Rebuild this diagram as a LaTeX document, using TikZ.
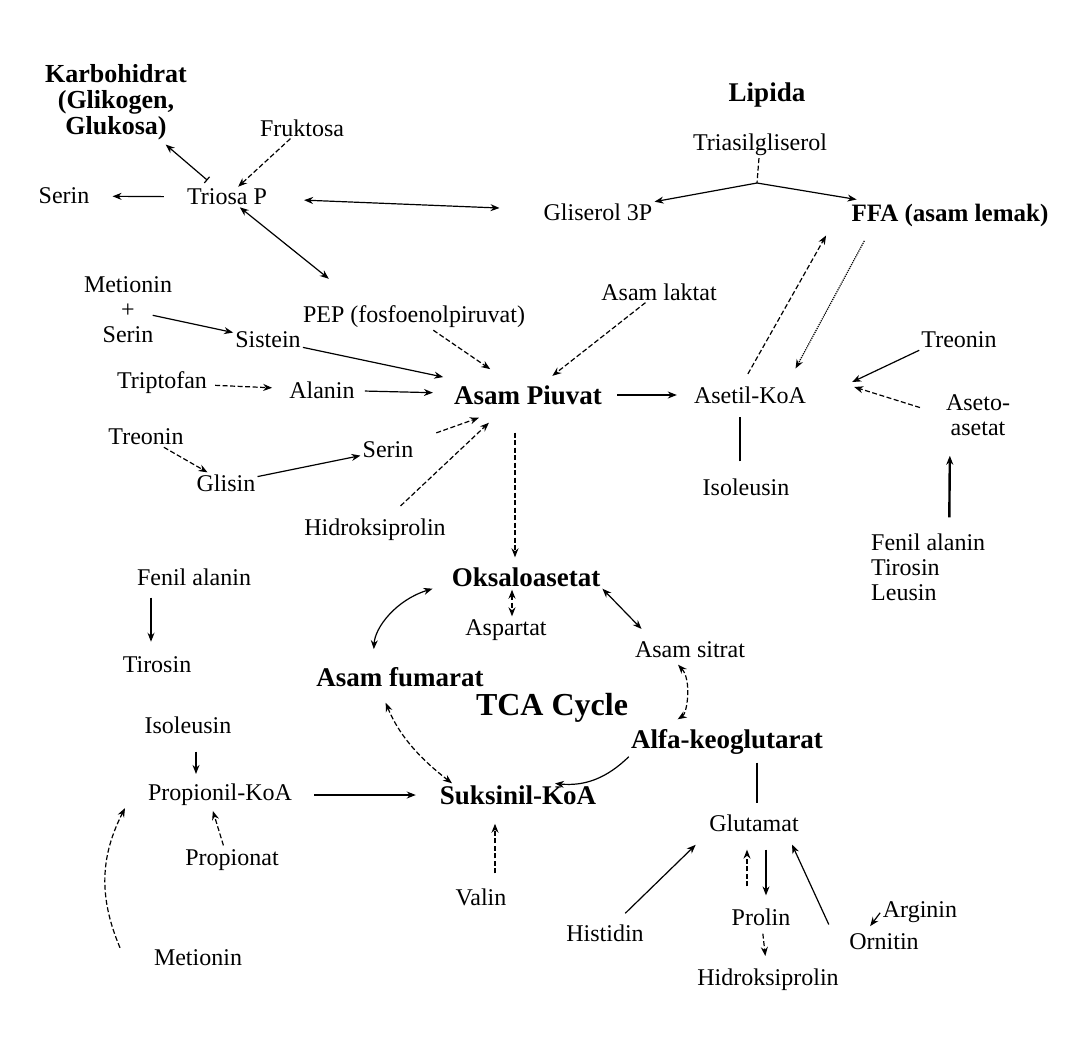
\documentclass[tikz,border=0pt]{standalone}
\usepackage{fontspec}
\setmainfont{Liberation Serif}
\usetikzlibrary{arrows.meta}

\begin{document}
\begin{tikzpicture}[x=1pt,y=-1pt,
    txt/.style={font=\fontsize{24}{25}\selectfont, inner sep=2pt},
    bld/.style={font=\fontsize{27}{24}\selectfont\bfseries, inner sep=2pt},
    arr/.style={-{Stealth[length=9pt,width=7pt]}, line width=1.2pt},
    dbl/.style={{Stealth[length=9pt,width=7pt]}-{Stealth[length=9pt,width=7pt]}, line width=1.2pt},
    dsh/.style={dash pattern=on 5pt off 2.5pt},
    thk/.style={line width=2.4pt}]
            \useasboundingbox[fill=white] (0,0) rectangle (1088,1037);

            % 糖类
            \node[bld, align=center, font=\fontsize{26}{26}\selectfont\bfseries] (karbo) at (116,102) {Karbohidrat\\(Glikogen,\\Glukosa)};
            \node[txt] (fru) at (302,128) {Fruktosa};
            \node[txt] (ser1) at (64,196) {Serin};
            \node[txt] (tri) at (227,197) {Triosa P};

            % 脂类
            \node[bld] (lip) at (767,95) {Lipida};
            \node[txt] (tag) at (760,145) {Triasilgliserol};
            \coordinate (jn) at (757,183);
            \node[txt] (gli) at (598,212) {Gliserol 3P};
            \node[bld, font=\fontsize{25}{26}\selectfont\bfseries] (ffa) at (950,215) {FFA (asam lemak)};

            % 丙酮酸一带
            \node[txt, align=center] (met1) at (128,310) {Metionin\\+\\Serin};
            \node[txt] (pep) at (414,317) {PEP (fosfoenolpiruvat)};
            \node[txt] (sis) at (268,340) {Sistein};
            \node[txt] (lak) at (659,292) {Asam laktat};
            \node[txt] (trp) at (162,383) {Triptofan};
            \node[txt] (ala) at (322,390) {Alanin};
            \node[bld] (piu) at (528,395) {Asam Piuvat};
            \node[txt] (ase) at (750,395) {Asetil-KoA};
            \node[txt] (tre2) at (959,340) {Treonin};
            \node[txt, align=center] (aset) at (978,415) {Aseto-\\asetat};
            \node[txt] (tre1) at (146,437) {Treonin};
            \node[txt] (ser2) at (388,450) {Serin};
            \node[txt] (gly) at (226,483) {Glisin};
            \node[txt] (iso1) at (746,487) {Isoleusin};
            \node[txt] (hid1) at (375,530) {Hidroksiprolin};
            \node[txt, align=left, anchor=west] (fen2) at (869,567) {Fenil alanin\\Tirosin\\Leusin};

            % TCA 循环
            \node[bld] (oks) at (526,577) {Oksaloasetat};
            \node[txt] (fen1) at (194,577) {Fenil alanin};
            \node[txt] (asp) at (506,630) {Aspartat};
            \node[txt] (sit) at (690,650) {Asam sitrat};
            \node[txt] (tir) at (157,665) {Tirosin};
            \node[bld] (fum) at (400,677) {Asam fumarat};
            \node[bld, font=\fontsize{32}{34}\selectfont\bfseries] (tca) at (552,708) {TCA Cycle};
            \node[txt] (iso2) at (188,725) {Isoleusin};
            \node[bld] (alf) at (727,742) {Alfa-keoglutarat};
            \node[txt] (pro) at (220,795) {Propionil-KoA};
            \node[bld] (suk) at (518,795) {Suksinil-KoA};
            \node[txt] (glu) at (754,823) {Glutamat};
            \node[txt] (prp) at (232,860) {Propionat};
            \node[txt] (val) at (481,897) {Valin};
            \node[txt] (his) at (605,933) {Histidin};
            \node[txt] (prl) at (761,917) {Prolin};
            \node[txt] (arg) at (920,912) {Arginin};
            \node[txt] (orn) at (884,942) {Ornitin};
            \node[txt] (met2) at (198,958) {Metionin};
            \node[txt] (hid2) at (768,980) {Hidroksiprolin};

            % 上部箭头
            \draw[arr, shorten <=21pt, shorten >=21pt] (tri) -- (ser1);
            \draw[{Bar[width=8pt]}-{Stealth[length=9pt,width=7pt]}, line width=1.2pt, shorten <=10pt, shorten >=4pt] (tri) -- (karbo);
            \draw[arr, dsh] (fru) -- (tri);
            \draw[dbl, shorten <=35pt, shorten >=42pt] (tri) -- (gli);
            \draw[dbl, shorten >=40pt] (tri) -- ([xshift=-54pt]pep.north);
            \draw[dsh, line width=1.2pt] (tag) -- (jn);
            \draw[arr] (jn) -- (gli);
            \draw[arr, shorten >=12pt] (jn) -- (ffa);

            % 进入丙酮酸
            \draw[arr, shorten <=-22pt] (met1) -- (sis);
            \draw[arr, shorten >=30pt] (sis) -- (piu);
            \draw[arr, dsh, shorten >=25pt] (pep) -- (piu);
            \draw[arr, dsh, shorten >=12pt] (lak) -- (piu);
            \draw[arr, dsh, shorten <=6pt, shorten >=15pt] (trp) -- (ala);
            \draw[arr, shorten <=8pt, shorten >=19pt] (ala) -- (piu);
            \draw[arr, dsh] (tre1) -- (gly);
            \draw[arr] (gly) -- (ser2);
            \draw[arr, dsh, shorten <=22pt] (ser2) -- ([xshift=27pt,yshift=-11pt]piu.south west);
            \draw[arr, dsh, shorten <=16pt] (hid1) -- ([xshift=37pt,yshift=-16pt]piu.south west);
            \draw[arr, dsh, shorten <=26pt, shorten >=8pt] ([xshift=-13pt]piu.south) -- ([xshift=-11pt]oks.north);

            % 乙酰辅酶A
            \draw[arr, shorten <=13pt, shorten >=15pt] (piu) -- (ase);
            \draw[arr, dsh, shorten <=12pt, shorten >=8pt] ([xshift=-8pt]ase.north) -- ([xshift=-120pt]ffa.south);
            \draw[arr, densely dotted, shorten <=14pt, shorten >=18pt] ([xshift=-79pt]ffa.south) -- ([xshift=37pt]ase.north);
            \draw[thk, shorten <=15pt, shorten >=11pt] ([xshift=-6pt]iso1.north) -- ([xshift=-10pt]ase.south);
            \draw[arr] (tre2.south west) -- ([xshift=44pt,yshift=13pt]ase.east);
            \draw[arr, dsh, shorten <=25pt] (aset.west) -- ([xshift=46pt,yshift=8pt]ase.east);
            \draw[thk, -{Stealth[length=9pt,width=7pt]}, shorten <=14pt, shorten >=18pt] ([xshift=21pt]fen2.north) -- ([xshift=-28pt]aset.south);

            % TCA 循环箭头
            \draw[dbl, dsh, shorten <=1pt, shorten >=1pt] ([xshift=-14pt]oks.south) -- ([xshift=6pt]asp.north);
            \draw[dbl, shorten >=15pt] (oks.south east) -- ([xshift=-38pt]sit.north);
            \draw[dbl, dsh, shorten <=6pt, shorten >=15pt] ([xshift=-16pt]sit.south) to[bend left=50] ([xshift=-62pt]alf.north);
            \draw[arr, shorten >=2pt] (alf.south west) to[bend left=25] ([xshift=35pt]suk.north);
            \draw[dbl, dsh, shorten <=15pt] ([xshift=-20pt]fum.south) to[bend right=15] ([xshift=-66pt]suk.north);
            \draw[dbl, shorten <=16pt] ([xshift=-27pt]fum.north) to[bend left=35] ([xshift=-17pt]oks.south west);

            % 丙酰辅酶A
            \draw[arr, shorten <=10pt, shorten >=13pt] ([xshift=-43pt]fen1.south) -- ([xshift=-6pt]tir.north);
            \draw[arr, shorten <=16pt, shorten >=8pt] ([xshift=8pt]iso2.south) -- ([xshift=-24pt]pro.north);
            \draw[arr, shorten <=20pt, shorten >=22pt] (pro) -- (suk);
            \draw[arr, dsh, shorten <=2pt, shorten >=3pt] ([xshift=-8pt]prp.north) -- ([xshift=-8pt]pro.south);
            \draw[arr, dsh] ([xshift=-78pt]met2.north) to[bend left=25] ([xshift=-95pt]pro.south);
            \draw[arr, dsh, shorten <=13pt, shorten >=17pt] ([xshift=14pt]val.north) -- ([xshift=-23pt]suk.south);

            % 谷氨酸
            \draw[thk, shorten <=6pt, shorten >=9pt] ([xshift=30pt]alf.south) -- ([xshift=3pt]glu.north);
            \draw[arr, shorten <=13pt, shorten >=16pt] (his) -- (glu.south west);
            \draw[arr, dsh, shorten <=20pt, shorten >=16pt] ([xshift=-14pt]prl.north) -- ([xshift=-7pt]glu.south);
            \draw[arr, shorten <=16pt, shorten >=11pt] ([xshift=12pt]glu.south) -- ([xshift=5pt]prl.north);
            \draw[arr, dsh, shorten <=6pt, shorten >=11pt] (prl) -- (hid2);
            \draw[arr, shorten <=8pt, shorten >=12pt] ([xshift=-15pt]orn.north west) -- ([xshift=33pt]glu.south);
            \draw[arr, shorten <=1pt, shorten >=7pt] (arg.west) -- ([xshift=-18pt]orn.north);
\end{tikzpicture}
\end{document}
